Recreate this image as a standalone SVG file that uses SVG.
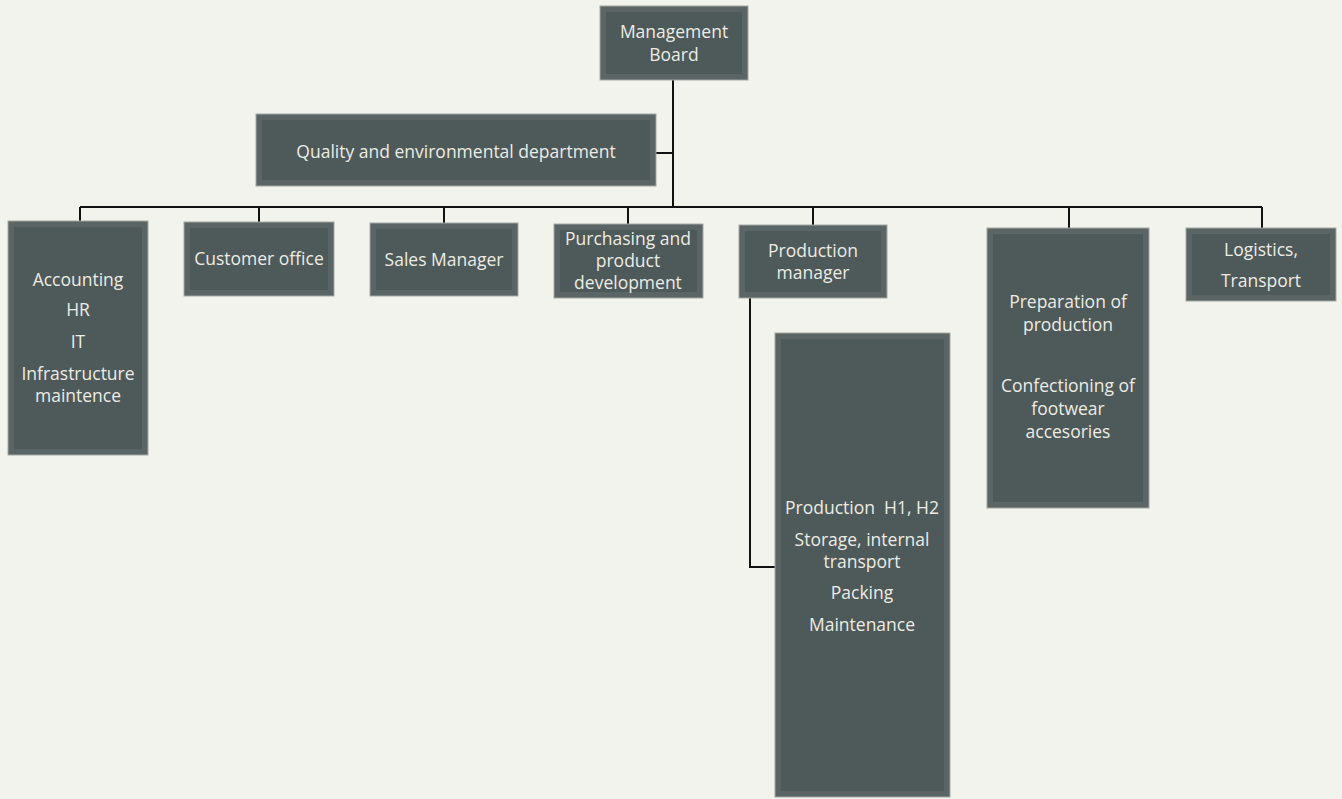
<svg xmlns="http://www.w3.org/2000/svg" width="1342" height="799" viewBox="0 0 1342 799">
<style>
.bg{fill:#f3f3ee}
.o{fill:#5b6566;stroke:#a3a8a3;stroke-width:1}
.i{fill:#4e595a}
.t{font-family:"Open Sans","Noto Sans",sans-serif;font-size:17.5px;fill:#ecece4;text-anchor:middle;white-space:pre}
.c{fill:none;stroke:#111;stroke-width:2}
</style>
<rect class="bg" x="0" y="0" width="1342" height="799"/>
<g id="connectors">
<path class="c" d="M673 80 V207"/>
<path class="c" d="M656 153 H673"/>
<path class="c" d="M80 207 H1262"/>
<path class="c" d="M80 207 V221"/>
<path class="c" d="M259 207 V222"/>
<path class="c" d="M444 207 V223"/>
<path class="c" d="M628 207 V224"/>
<path class="c" d="M813 207 V225"/>
<path class="c" d="M1069 207 V228"/>
<path class="c" d="M1262 207 V228"/>
<path class="c" d="M750 298 V567 H775"/>
</g>
<g id="management-board">
<rect class="o" x="600" y="6" width="148" height="74"/>
<rect class="i" x="606" y="12" width="136" height="62"/>
<text class="t" x="674" y="38">Management</text>
<text class="t" x="674" y="61">Board</text>
</g>
<g id="quality">
<rect class="o" x="256" y="114" width="400" height="72"/>
<rect class="i" x="262" y="120" width="388" height="60"/>
<text class="t" x="456" y="158">Quality and environmental department</text>
</g>
<g id="accounting">
<rect class="o" x="8" y="221" width="140" height="234"/>
<rect class="i" x="14" y="227" width="128" height="222"/>
<text class="t" x="78" y="286">Accounting</text>
<text class="t" x="78" y="316">HR</text>
<text class="t" x="78" y="348">IT</text>
<text class="t" x="78" y="380">Infrastructure</text>
<text class="t" x="78" y="402">maintence</text>
</g>
<g id="customer-office">
<rect class="o" x="184" y="222" width="150" height="74"/>
<rect class="i" x="190" y="228" width="138" height="62"/>
<text class="t" x="259" y="265">Customer office</text>
</g>
<g id="sales-manager">
<rect class="o" x="370" y="223" width="148" height="73"/>
<rect class="i" x="376" y="229" width="136" height="61"/>
<text class="t" x="444" y="266">Sales Manager</text>
</g>
<g id="purchasing">
<rect class="o" x="554" y="224" width="149" height="74"/>
<rect class="i" x="560" y="230" width="137" height="62"/>
<text class="t" x="628" y="245">Purchasing and</text>
<text class="t" x="628" y="267">product</text>
<text class="t" x="628" y="289">development</text>
</g>
<g id="production-manager">
<rect class="o" x="739" y="225" width="148" height="73"/>
<rect class="i" x="745" y="231" width="136" height="61"/>
<text class="t" x="813" y="257">Production</text>
<text class="t" x="813" y="279">manager</text>
</g>
<g id="preparation">
<rect class="o" x="987" y="228" width="162" height="280"/>
<rect class="i" x="993" y="234" width="150" height="268"/>
<text class="t" x="1068" y="308">Preparation of</text>
<text class="t" x="1068" y="331">production</text>
<text class="t" x="1068" y="392">Confectioning of</text>
<text class="t" x="1068" y="415">footwear</text>
<text class="t" x="1068" y="438">accesories</text>
</g>
<g id="logistics">
<rect class="o" x="1186" y="228" width="150" height="73"/>
<rect class="i" x="1192" y="234" width="138" height="61"/>
<text class="t" x="1261" y="256">Logistics,</text>
<text class="t" x="1261" y="287">Transport</text>
</g>
<g id="production">
<rect class="o" x="775" y="333" width="175" height="464"/>
<rect class="i" x="781" y="339" width="163" height="452"/>
<text class="t" x="862" y="514">Production  H1, H2</text>
<text class="t" x="862" y="546">Storage, internal</text>
<text class="t" x="862" y="568">transport</text>
<text class="t" x="862" y="599">Packing</text>
<text class="t" x="862" y="631">Maintenance</text>
</g>
</svg>
